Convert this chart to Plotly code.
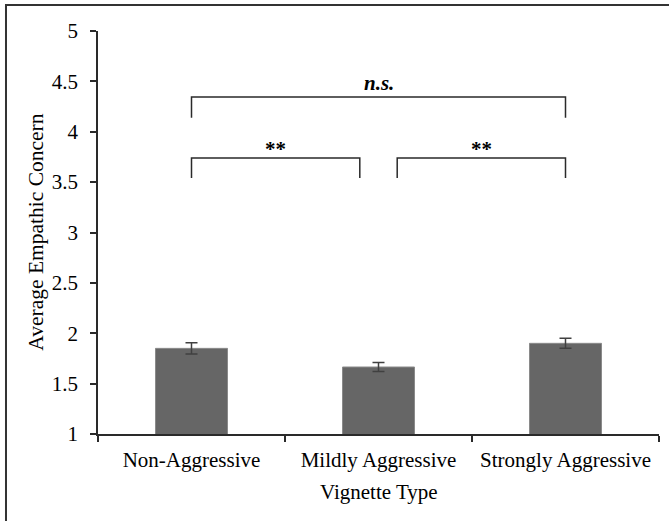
import plotly.graph_objects as go

categories = ["Non-Aggressive", "Mildly Aggressive", "Strongly Aggressive"]
means = [1.85, 1.665, 1.90]
errors = [0.055, 0.045, 0.05]
y_ticks = [1, 1.5, 2, 2.5, 3, 3.5, 4, 4.5, 5]

# significance brackets: (x start index, x end index, top y, bottom y, label, label y)
brackets = [
    (0.0, 2.0, 4.345, 4.14, "<b><i>n.s.</i></b>", 4.48),
    (0.0, 0.9, 3.74, 3.54, "<b>**</b>", 3.83),
    (1.1, 2.0, 3.74, 3.54, "<b>**</b>", 3.83),
]

FONT = "Liberation Serif"
AX = "#2a2a2a"
TXT = "#000000"

fig = go.Figure()
fig.add_trace(go.Bar(
    x=categories, y=means,
    marker=dict(color="#666666", line=dict(color="#8a8a8a", width=1)),
    error_y=dict(type="data", array=errors, visible=True,
                 color="#404040", thickness=1.5, width=6),
    hoverinfo="skip",
))

shapes = []
annotations = []
for x0, x1, ytop, ybot, label, ylab in brackets:
    shapes.append(dict(type="path", xref="x", yref="y",
                       path=f"M {x0},{ybot} L {x0},{ytop} L {x1},{ytop} L {x1},{ybot}",
                       line=dict(color="#2a2a2a", width=1.5)))
    annotations.append(dict(x=(x0 + x1) / 2, y=ylab, xref="x", yref="y",
                            text=label, showarrow=False,
                            font=dict(family=FONT, size=21, color=TXT),
                            xanchor="center", yanchor="middle"))

# outer border (left and top visible)
shapes.append(dict(type="rect", xref="paper", yref="paper",
                   x0=-0.164, x1=1.2, y0=-0.4, y1=1.0645,
                   line=dict(color="#333333", width=2)))

annotations.append(dict(x=0.5, y=-0.145, xref="paper", yref="paper",
                        text="Vignette Type", showarrow=False,
                        font=dict(family=FONT, size=21, color=TXT),
                        xanchor="center", yanchor="middle"))
annotations.append(dict(x=-0.112, y=0.5, xref="paper", yref="paper",
                        text="Average Empathic Concern", showarrow=False, textangle=-90,
                        font=dict(family=FONT, size=21.5, color=TXT),
                        xanchor="center", yanchor="middle"))

fig.update_layout(
    width=669, height=521,
    margin=dict(l=98, r=10, t=31, b=87),
    paper_bgcolor="white", plot_bgcolor="white",
    bargap=0.615,
    showlegend=False,
    shapes=shapes,
    annotations=annotations,
    font=dict(family=FONT, size=20, color=TXT),
)
fig.update_xaxes(
    type="category", tickson="boundaries", ticks="outside", ticklen=6,
    tickcolor=AX, tickwidth=1.5, showline=True, linecolor=AX, linewidth=1.5,
    showgrid=False, tickfont=dict(family=FONT, size=21, color=TXT),
    ticklabelstandoff=6,
)
fig.update_yaxes(
    range=[1, 5], tickvals=y_ticks, ticks="outside", ticklen=6,
    tickcolor=AX, tickwidth=1.5, showline=True, linecolor=AX, linewidth=1.5,
    showgrid=False, zeroline=False, tickfont=dict(family=FONT, size=21, color=TXT),
    ticklabelstandoff=8,
)

fig.write_html("out.html", config={"displayModeBar": False},
               post_script="document.body.style.margin='0';document.body.style.overflow='hidden';")
